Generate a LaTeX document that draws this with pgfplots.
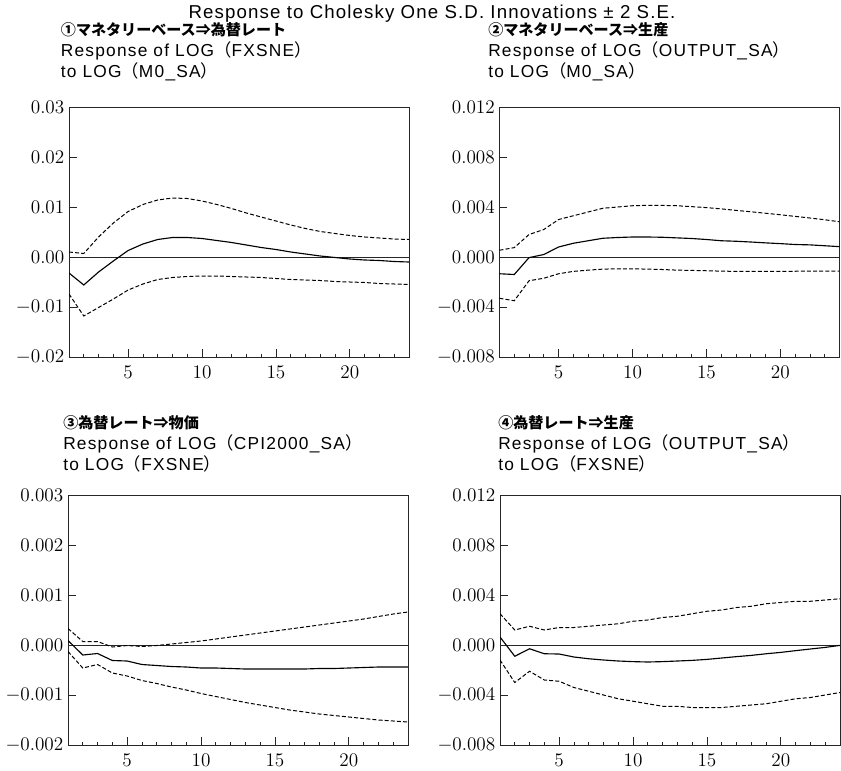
\documentclass[border=0pt]{standalone}
\usepackage{pgfplots}
\pgfplotsset{compat=1.18}
\usepackage{pgfplotstable}
\usepackage{fontspec}
\usetikzlibrary{calc}
\setmainfont{Liberation Sans}
\newfontfamily\latin{Liberation Sans}[LetterSpace=7]
\newfontfamily\headfont{Liberation Sans}[LetterSpace=6]
\newfontfamily\jp{Noto Sans CJK JP}
\newcommand{\lp}{{\jp （}}
\newcommand{\rp}{{\jp ）}}

% impulse responses: horizon, response, upper band, lower band
\pgfplotstableread{
h  r        up       lo
1  -0.0032  0.0010  -0.0074
2  -0.0056  0.0007  -0.0118
3  -0.0030  0.0040  -0.0101
4  -0.0008  0.0068  -0.0084
5   0.0013  0.0091  -0.0066
6   0.0026  0.0105  -0.0054
7   0.0035  0.0114  -0.0045
8   0.0039  0.0118  -0.0041
9   0.0039  0.0117  -0.0039
10  0.0037  0.0112  -0.0038
11  0.0033  0.0105  -0.0038
12  0.0029  0.0097  -0.0039
13  0.0024  0.0088  -0.0040
14  0.0019  0.0080  -0.0041
15  0.0015  0.0072  -0.0043
16  0.0010  0.0064  -0.0045
17  0.0006  0.0057  -0.0046
18  0.0002  0.0051  -0.0047
19 -0.0001  0.0047  -0.0049
20 -0.0004  0.0043  -0.0050
21 -0.0006  0.0040  -0.0051
22 -0.0007  0.0038  -0.0053
23 -0.0009  0.0036  -0.0054
24 -0.0010  0.0035  -0.0055
}\fxm

\pgfplotstableread{
h  r         up        lo
1  -0.00134  0.00054  -0.00330
2  -0.00140  0.00075  -0.00350
3  -0.00005  0.00180  -0.00190
4   0.00020  0.00220  -0.00170
5   0.00080  0.00300  -0.00134
6   0.00110  0.00330  -0.00115
7   0.00130  0.00360  -0.00105
8   0.00150  0.00390  -0.00097
9   0.00156  0.00400  -0.00094
10  0.00160  0.00410  -0.00094
11  0.00160  0.00413  -0.00097
12  0.00158  0.00413  -0.00100
13  0.00153  0.00410  -0.00105
14  0.00148  0.00403  -0.00107
15  0.00140  0.00395  -0.00110
16  0.00130  0.00385  -0.00113
17  0.00126  0.00373  -0.00115
18  0.00120  0.00362  -0.00115
19  0.00113  0.00350  -0.00115
20  0.00107  0.00338  -0.00115
21  0.00100  0.00325  -0.00114
22  0.00097  0.00312  -0.00113
23  0.00090  0.00298  -0.00113
24  0.00083  0.00282  -0.00113
}\outm

\pgfplotstableread{
h  r          up         lo
1   0.00009   0.00033  -0.00013
2  -0.00020   0.00007  -0.00046
3  -0.00017   0.00007  -0.00039
4  -0.00031  -0.00004  -0.00056
5  -0.00032  -0.00001  -0.00062
6  -0.00039  -0.00003  -0.00071
7  -0.00041  -0.00001  -0.00077
8  -0.00043   0.00002  -0.00084
9  -0.00044   0.00005  -0.00090
10 -0.00046   0.00008  -0.00097
11 -0.00046   0.00012  -0.00103
12 -0.00047   0.00016  -0.00109
13 -0.00048   0.00020  -0.00115
14 -0.00048   0.00024  -0.00120
15 -0.00048   0.00028  -0.00125
16 -0.00048   0.00032  -0.00130
17 -0.00048   0.00036  -0.00134
18 -0.00047   0.00040  -0.00138
19 -0.00047   0.00044  -0.00141
20 -0.00046   0.00048  -0.00144
21 -0.00045   0.00052  -0.00147
22 -0.00044   0.00057  -0.00150
23 -0.00044   0.00062  -0.00152
24 -0.00044   0.00066  -0.00154
}\cpif

\pgfplotstableread{
h  r          up        lo
1   0.00064  0.0025  -0.0012
2  -0.00090  0.0012  -0.0030
3  -0.00030  0.0015  -0.0021
4  -0.00070  0.0012  -0.0028
5  -0.00072  0.0014  -0.0029
6  -0.00096  0.0014  -0.0034
7  -0.00110  0.0015  -0.0037
8  -0.00120  0.0016  -0.0040
9  -0.00128  0.0017  -0.0043
10 -0.00133  0.0019  -0.0045
11 -0.00136  0.0020  -0.0047
12 -0.00133  0.0022  -0.0049
13 -0.00128  0.0023  -0.0049
14 -0.00123  0.0025  -0.0050
15 -0.00115  0.0027  -0.0050
16 -0.00104  0.0028  -0.0050
17 -0.00093  0.0030  -0.0049
18 -0.00083  0.0031  -0.0048
19 -0.00070  0.0033  -0.0047
20 -0.00059  0.0034  -0.0045
21 -0.00045  0.0035  -0.0043
22 -0.00032  0.0035  -0.0042
23 -0.00019  0.0036  -0.0040
24 -0.00003  0.0037  -0.0038
}\outf

\pgfplotsset{
  irf/.style={
    scale only axis, width=255pt, height=187.5pt,
    xmin=1, xmax=24,
    xtick={5,10,15,20},
    minor xtick={2,3,4,6,7,8,9,11,12,13,14,16,17,18,19,21,22,23},
    xtick pos=bottom, ytick pos=left, tick align=inside,
    major tick length=6pt, minor tick length=2.6pt,
    axis line style={line width=0.6pt, black!85},
    every tick/.style={line width=0.6pt, black!85},
    every minor tick/.style={line width=0.6pt, black!85},
    ticklabel style={font=\fontsize{13.5}{15}\selectfont},
    xticklabel style={yshift=-3.6pt},
    scaled y ticks=false,
    yticklabel style={/pgf/number format/.cd, fixed, fixed zerofill, precision=#1},
  },
  band/.style={line width=0.75pt, black, dash pattern=on 3pt off 1.6pt},
  resp/.style={line width=0.85pt, black},
  zero/.style={line width=0.6pt, black!85},
}

% three-line panel heading: Japanese label, response variable, impulse variable
\newcommand{\ttl}[5]{%
  \node[anchor=base west, inner sep=0pt, font=\jp\bfseries\fontsize{11.3}{13}\selectfont] at (#1,#2) {#3};
  \node[anchor=base west, inner sep=0pt, font=\latin\fontsize{13}{15}\selectfont] at ($(#1,#2)+(0,-15.75pt)$) {#4};
  \node[anchor=base west, inner sep=0pt, font=\latin\fontsize{13}{15}\selectfont] at ($(#1,#2)+(0,-31.5pt)$) {#5};
}

\begin{document}
\begin{tikzpicture}
\path[use as bounding box] (0,0) rectangle (630.75pt,-577.5pt);

\node[anchor=base, inner sep=0pt, font=\headfont\fontsize{14}{16}\selectfont] at (324pt,-13.75pt)
  {Response to Cholesky One S.D. Innovations ± 2 S.E.};

\ttl{45.5pt}{-27pt}{①マネタリーベース⇒為替レート}{Response of LOG\lp FXSNE\rp}{to LOG\lp M0\_SA\rp}
\ttl{366pt}{-27pt}{②マネタリーベース⇒生産}{Response of LOG\lp OUTPUT\_SA\rp}{to LOG\lp M0\_SA\rp}
\ttl{47.25pt}{-321.5pt}{③為替レート⇒物価}{Response of LOG\lp CPI2000\_SA\rp}{to LOG\lp FXSNE\rp}
\ttl{373.5pt}{-321.5pt}{④為替レート⇒生産}{Response of LOG\lp OUTPUT\_SA\rp}{to LOG\lp FXSNE\rp}

\begin{axis}[irf=2, at={(51.75pt,-267.75pt)}, anchor=south west,
  ymin=-0.02, ymax=0.03, ytick={-0.02,-0.01,0,0.01,0.02,0.03}]
  \addplot[zero] coordinates {(1,0) (24,0)};
  \addplot[band] table[x=h,y=up] {\fxm};
  \addplot[band] table[x=h,y=lo] {\fxm};
  \addplot[resp] table[x=h,y=r] {\fxm};
\end{axis}

\begin{axis}[irf=3, at={(374.6pt,-267.75pt)}, anchor=south west,
  ymin=-0.008, ymax=0.012, ytick={-0.008,-0.004,0,0.004,0.008,0.012}]
  \addplot[zero] coordinates {(1,0) (24,0)};
  \addplot[band] table[x=h,y=up] {\outm};
  \addplot[band] table[x=h,y=lo] {\outm};
  \addplot[resp] table[x=h,y=r] {\outm};
\end{axis}

\begin{axis}[irf=3, at={(51pt,-558.75pt)}, anchor=south west,
  ymin=-0.002, ymax=0.003, ytick={-0.002,-0.001,0,0.001,0.002,0.003}]
  \addplot[zero] coordinates {(1,0) (24,0)};
  \addplot[band] table[x=h,y=up] {\cpif};
  \addplot[band] table[x=h,y=lo] {\cpif};
  \addplot[resp] table[x=h,y=r] {\cpif};
\end{axis}

\begin{axis}[irf=3, at={(375pt,-558.75pt)}, anchor=south west,
  ymin=-0.008, ymax=0.012, ytick={-0.008,-0.004,0,0.004,0.008,0.012}]
  \addplot[zero] coordinates {(1,0) (24,0)};
  \addplot[band] table[x=h,y=up] {\outf};
  \addplot[band] table[x=h,y=lo] {\outf};
  \addplot[resp] table[x=h,y=r] {\outf};
\end{axis}
\end{tikzpicture}
\end{document}
